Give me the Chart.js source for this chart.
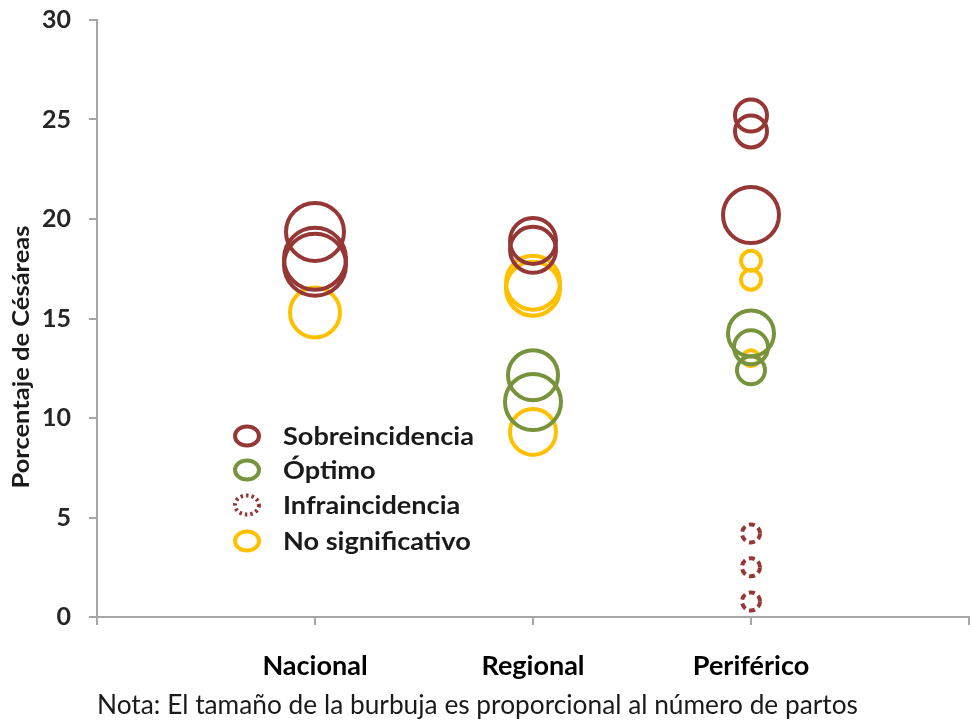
<!DOCTYPE html>
<html>
<head>
<meta charset="utf-8">
<script src="https://cdn.jsdelivr.net/npm/chart.js@4.4.1/dist/chart.umd.min.js"></script>
<style>
  html, body { margin: 0; padding: 0; background: #ffffff; }
  #wrap { position: relative; width: 972px; height: 722px; }
  canvas { display: block; }
</style>
</head>
<body>
<div id="wrap"><canvas id="c" width="972" height="722"></canvas></div>
<script>
// ---- Data ----
const categories = ['Nacional', 'Regional', 'Periférico'];
const seriesNames = ['Sobreincidencia', 'Óptimo', 'Infraincidencia', 'No significativo'];
const yTicks = [0, 5, 10, 15, 20, 25, 30];

// Sobreincidencia
const sobreCat  = [1, 1, 1, 2, 2, 3, 3, 3];
const sobreVal  = [19.35, 18.0, 17.7, 18.9, 18.45, 25.2, 24.4, 20.2];
const sobreSize = [29, 31, 31, 23, 23, 16, 16, 28];

// Óptimo
const optCat  = [2, 2, 3, 3, 3];
const optVal  = [12.15, 10.8, 14.25, 13.55, 12.4];
const optSize = [25, 28, 23, 17, 14];

// Infraincidencia
const infraCat  = [3, 3, 3];
const infraVal  = [4.2, 2.5, 0.78];
const infraSize = [9, 9, 9];

// No significativo
const noSigCat  = [1, 2, 2, 2, 3, 3, 3];
const noSigVal  = [15.3, 16.8, 16.5, 9.3, 17.9, 16.95, 13.0];
const noSigSize = [25, 27, 27, 23, 10, 10, 8];

const yTitle = 'Porcentaje de Césáreas';
const note = 'Nota: El tamaño de la burbuja es proporcional al número de partos';

// ---- Styling ----
const RED = '#953735', GREEN = '#77933C', YELLOW = '#FFC000', AXIS = '#a6a6a6';
const FONT = 'Lato, "Open Sans", sans-serif';

function pts(xs, ys, rs) { return xs.map((x, i) => ({ x: x, y: ys[i], r: rs[i] })); }

const datasets = [
  { label: seriesNames[0], data: pts(sobreCat, sobreVal, sobreSize), borderColor: RED, dash: null },
  { label: seriesNames[1], data: pts(optCat, optVal, optSize), borderColor: GREEN, dash: null },
  { label: seriesNames[2], data: pts(infraCat, infraVal, infraSize), borderColor: RED, dash: [6, 4] },
  { label: seriesNames[3], data: pts(noSigCat, noSigVal, noSigSize), borderColor: YELLOW, dash: null }
].map(d => Object.assign(d, { backgroundColor: 'rgba(0,0,0,0)', borderWidth: 4, clip: false }));

const dashPlugin = {
  id: 'dashPlugin',
  beforeDatasetDraw(chart, args) {
    const ds = chart.data.datasets[args.index];
    chart.ctx.save();
    if (ds.dash) chart.ctx.setLineDash(ds.dash);
  },
  afterDatasetDraw(chart) { chart.ctx.restore(); }
};

// draw text stretched horizontally to a target width
function fitText(ctx, text, x, y, targetW) {
  const w = ctx.measureText(text).width;
  const sx = targetW / w;
  ctx.save();
  ctx.translate(x, y);
  ctx.scale(sx, 1);
  ctx.fillText(text, 0, 0);
  ctx.restore();
}

const extrasPlugin = {
  id: 'extras',
  afterDraw(chart) {
    const ctx = chart.ctx;
    const ca = chart.chartArea;
    ctx.save();
    // Legend inside plot
    const lx = ca.left + 150, tx = ca.left + 186;
    const rows = [436, 470, 505, 541];
    const legendStyles = [
      { c: RED, dash: null }, { c: GREEN, dash: null }, { c: RED, dash: [2.5, 3] }, { c: YELLOW, dash: null }
    ];
    ctx.font = 'bold 25px ' + FONT;
    const k = 191 / ctx.measureText(chart.data.datasets[0].label).width;
    chart.data.datasets.forEach((ds, i) => {
      const y = rows[i];
      ctx.beginPath();
      ctx.setLineDash(legendStyles[i].dash || []);
      ctx.lineWidth = 4;
      ctx.strokeStyle = legendStyles[i].c;
      ctx.ellipse(lx, y, 12, 9.5, 0, 0, Math.PI * 2);
      ctx.stroke();
      ctx.setLineDash([]);
      ctx.fillStyle = '#1a1a1a';
      ctx.textAlign = 'left';
      ctx.textBaseline = 'middle';
      fitText(ctx, ds.label, tx, y + 1, ctx.measureText(ds.label).width * k);
    });
    // Y axis title
    ctx.save();
    ctx.translate(22, 357);
    ctx.rotate(-Math.PI / 2);
    ctx.font = 'bold 23px ' + FONT;
    ctx.fillStyle = '#1a1a1a';
    ctx.textAlign = 'center';
    ctx.textBaseline = 'middle';
    fitText(ctx, yTitle, 0, 0, 263);
    ctx.restore();
    // Note
    ctx.font = '26px ' + FONT;
    ctx.fillStyle = '#1a1a1a';
    ctx.textAlign = 'left';
    ctx.textBaseline = 'middle';
    fitText(ctx, note, 97, 706, 761);
    ctx.restore();
  }
};

new Chart(document.getElementById('c'), {
  type: 'bubble',
  data: { datasets: datasets },
  plugins: [dashPlugin, extrasPlugin],
  options: {
    responsive: false,
    animation: false,
    events: [],
    layout: { autoPadding: false, padding: { top: 20, right: 3, left: 0, bottom: 0 } },
    plugins: { legend: { display: false }, tooltip: { enabled: false } },
    scales: {
      x: {
        type: 'linear', min: 0, max: 4,
        afterFit(s) { s.height = 105; s.paddingLeft = 0; s.paddingRight = 0; },
        afterBuildTicks(s) { s.ticks = [0, 1, 2, 3, 4].map(v => ({ value: v })); },
        grid: { drawOnChartArea: false, drawTicks: true, tickLength: 8, color: AXIS, lineWidth: 2 },
        border: { color: AXIS, width: 2 },
        ticks: {
          autoSkip: false, maxRotation: 0, padding: 25,
          color: '#000',
          font: { family: FONT, size: 27, weight: 'bold' },
          callback: v => (v >= 1 && v <= 3) ? categories[v - 1] : ''
        }
      },
      y: {
        type: 'linear', min: 0, max: 30,
        afterFit(s) { s.width = 97; s.paddingTop = 0; s.paddingBottom = 0; },
        afterBuildTicks(s) { s.ticks = yTicks.map(v => ({ value: v })); },
        grid: { drawOnChartArea: false, drawTicks: true, tickLength: 8, color: AXIS, lineWidth: 2 },
        border: { color: AXIS, width: 2 },
        ticks: {
          padding: 18, color: '#262626',
          font: { family: FONT, size: 25, weight: 'bold' }
        }
      }
    }
  }
});
</script>
</body>
</html>
